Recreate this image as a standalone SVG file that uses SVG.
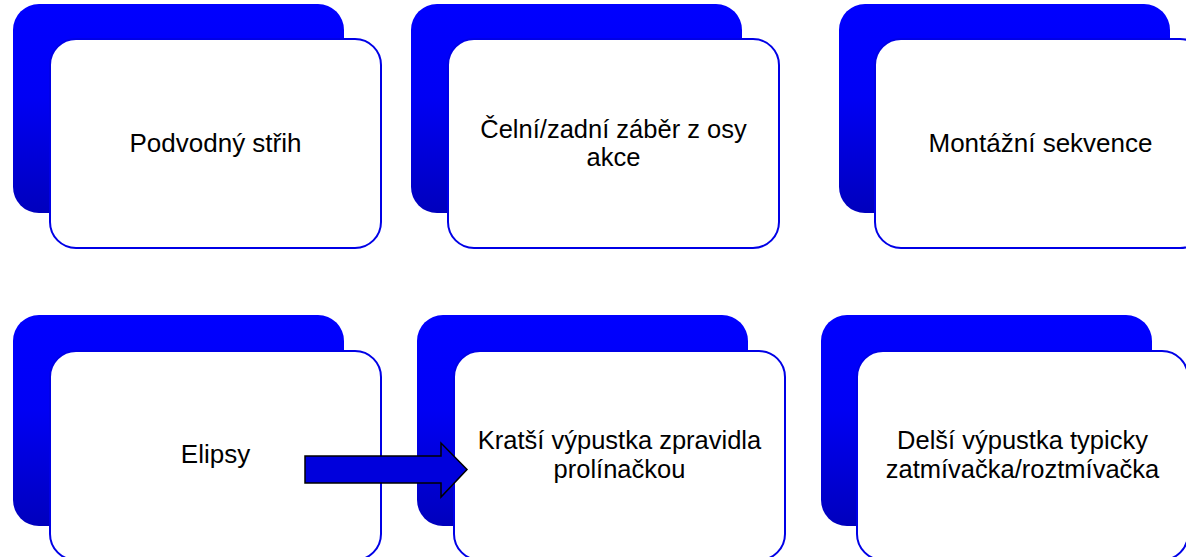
<svg xmlns="http://www.w3.org/2000/svg" width="1186" height="557" viewBox="0 0 1186 557">
<defs>
<linearGradient id="bg" x1="0" y1="0" x2="0" y2="1">
<stop offset="0" stop-color="#0000ff"/>
<stop offset="0.45" stop-color="#0000f4"/>
<stop offset="1" stop-color="#0000bd"/>
</linearGradient>
<style>
.back{fill:url(#bg);}
.front{fill:#ffffff;stroke:#0000e6;stroke-width:2;}
.lbl{font-family:"Liberation Sans",Arial,sans-serif;font-size:26px;fill:#000000;text-anchor:middle;}
.lbl2{font-family:"Liberation Sans",Arial,sans-serif;font-size:25.5px;fill:#000000;text-anchor:middle;}
.arrow{fill:#0000dc;stroke:#000000;stroke-width:1.5;stroke-linejoin:miter;}
</style>
</defs>
<rect width="1186" height="557" fill="#ffffff"/>
<g id="node-podvodny">
<rect class="back" x="13" y="4" width="331" height="209" rx="26"/>
<rect class="front" x="50" y="39" width="331" height="209" rx="26"/>
<text class="lbl" x="215.5" y="152">Podvodný střih</text>
</g>
<g id="node-celni">
<rect class="back" x="411" y="4" width="331" height="209" rx="26"/>
<rect class="front" x="448" y="39" width="331" height="209" rx="26"/>
<text class="lbl2" x="613.5" y="137.5">Čelní/zadní záběr z osy</text>
<text class="lbl2" x="613.5" y="166">akce</text>
</g>
<g id="node-montazni">
<rect class="back" x="839" y="4" width="331" height="209" rx="26"/>
<rect class="front" x="875" y="39" width="331" height="209" rx="26"/>
<text class="lbl" x="1040.5" y="152">Montážní sekvence</text>
</g>
<g id="node-elipsy">
<rect class="back" x="13" y="315" width="331" height="211" rx="26"/>
<rect class="front" x="50" y="351" width="331" height="209" rx="26"/>
<text class="lbl" x="215.5" y="463">Elipsy</text>
</g>
<g id="node-kratsi">
<rect class="back" x="417" y="315" width="331" height="211" rx="26"/>
<rect class="front" x="454" y="351" width="331" height="209" rx="26"/>
<text class="lbl2" x="619.5" y="449">Kratší výpustka zpravidla</text>
<text class="lbl2" x="619.5" y="477.5">prolínačkou</text>
</g>
<g id="node-delsi">
<rect class="back" x="821" y="315" width="331" height="211" rx="26"/>
<rect class="front" x="857" y="351" width="331" height="209" rx="26"/>
<text class="lbl2" x="1022.5" y="449">Delší výpustka typicky</text>
<text class="lbl2" x="1022.5" y="477.5">zatmívačka/roztmívačka</text>
</g>
<g id="connectors">
<path class="arrow" d="M305,456 L441,456 L441,443 L467,469.5 L441,497 L441,483 L305,483 Z"/>
</g>
</svg>
